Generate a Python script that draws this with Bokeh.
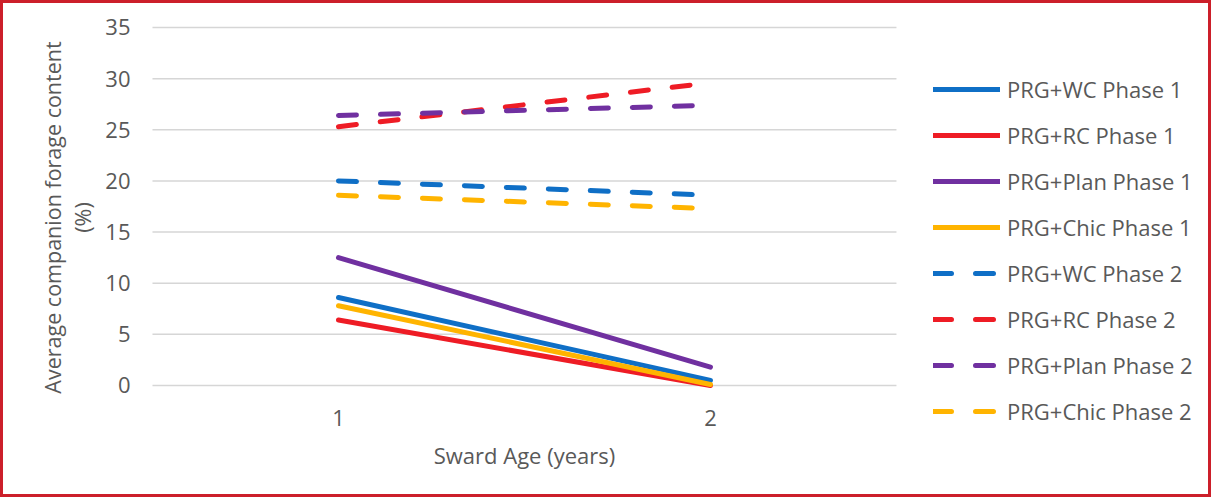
import math

from bokeh.plotting import figure
from bokeh.models import Range1d, Legend, LegendItem
from bokeh.core.properties import value
from bokeh.embed import file_html
from bokeh.resources import INLINE

# Sward age (years)
ages = [1, 2]
age_labels = ["1", "2"]

# Phase 1 (solid lines), average companion forage content (%)
wc_p1 = [8.6, 0.5]
rc_p1 = [6.4, 0.0]
plan_p1 = [12.5, 1.8]
chic_p1 = [7.8, 0.1]

# Phase 2 (dashed lines)
wc_p2 = [20.0, 18.6]
rc_p2 = [25.3, 29.6]
plan_p2 = [26.4, 27.4]
chic_p2 = [18.6, 17.3]

y_ticks = [0, 5, 10, 15, 20, 25, 30, 35]
y_tick_labels = [str(t) for t in y_ticks]

BLUE = "#0F6FC6"
RED = "#EE1C25"
PURPLE = "#7030A0"
GOLD = "#FFB400"
TEXT = "#595959"
FONT = "Open Sans"

# category area: each age gets one unit, centred on its value
x_lo, x_hi = ages[0] - 0.5, ages[-1] + 0.5
y_lo, y_hi = y_ticks[0], y_ticks[-1]

# the drawing area covers the whole canvas; axis texts and the legend
# are placed around the gridded category area inside it
p = figure(
    width=1211, height=497,
    x_range=Range1d(0.0995, 3.355),
    y_range=Range1d(-11.243, 37.346),
    output_backend="svg", toolbar_location=None,
    min_border_left=0, min_border_right=0,
    min_border_top=0, min_border_bottom=0,
)
p.outline_line_color = None
p.background_fill_color = "white"
p.border_fill_color = "white"
p.xaxis.visible = False
p.yaxis.visible = False
p.xgrid.grid_line_color = None
p.ygrid.grid_line_color = None

# horizontal gridlines over the category area
p.segment(x0=[x_lo] * len(y_ticks), x1=[x_hi] * len(y_ticks),
          y0=y_ticks, y1=y_ticks, line_color="#D6D6D6", line_width=1.5)

# value axis labels
p.text(x=[x_lo] * len(y_ticks), y=y_ticks, text=y_tick_labels,
       text_font=value(FONT), text_font_size="22px", text_color=TEXT,
       text_align="right", text_baseline="middle", x_offset=-22)

# value axis title (two lines, reading upwards)
y_mid = (y_lo + y_hi) / 2
p.text(x=[x_lo], y=[y_mid], text=["Average companion forage content"],
       text_font=value(FONT), text_font_size="21.5px", text_color=TEXT,
       text_align="center", text_baseline="middle", angle=math.pi / 2,
       x_offset=-100, y_offset=11)
p.text(x=[x_lo], y=[y_mid], text=["(%)"],
       text_font=value(FONT), text_font_size="21.5px", text_color=TEXT,
       text_align="center", text_baseline="middle", angle=math.pi / 2,
       x_offset=-70, y_offset=11)

# category labels and axis title under the zero line
p.text(x=ages, y=[y_lo] * len(ages), text=age_labels,
       text_font=value(FONT), text_font_size="22px", text_color=TEXT,
       text_align="center", text_baseline="middle", y_offset=33)
p.text(x=[(x_lo + x_hi) / 2], y=[y_lo], text=["Sward Age (years)"],
       text_font=value(FONT), text_font_size="22px", text_color=TEXT,
       text_align="center", text_baseline="middle", y_offset=70)

series = [
    ("PRG+WC Phase 1", wc_p1, BLUE, "solid"),
    ("PRG+RC Phase 1", rc_p1, RED, "solid"),
    ("PRG+Plan Phase 1", plan_p1, PURPLE, "solid"),
    ("PRG+Chic Phase 1", chic_p1, GOLD, "solid"),
    ("PRG+WC Phase 2", wc_p2, BLUE, "18 24"),
    ("PRG+RC Phase 2", rc_p2, RED, "18 24"),
    ("PRG+Plan Phase 2", plan_p2, PURPLE, "18 24"),
    ("PRG+Chic Phase 2", chic_p2, GOLD, "18 24"),
]

items = []
for name, vals, color, dash in series:
    r = p.line(ages, vals, line_color=color, line_width=5,
               line_dash=dash, line_cap="round")
    items.append(LegendItem(label=name, renderers=[r]))

legend = Legend(
    items=items,
    location=(930, 74),
    orientation="vertical",
    glyph_width=67, glyph_height=30, label_height=30,
    label_standoff=7, spacing=16,
    padding=0, margin=0,
    border_line_color=None, background_fill_alpha=0,
    label_text_font=FONT, label_text_font_size="22px",
    label_text_color=TEXT,
)
p.add_layout(legend)

# thin red frame around the whole graphic
p.styles = {"border": "3px solid #CC1F2A"}

open("out.html", "w").write(file_html(p, INLINE))
